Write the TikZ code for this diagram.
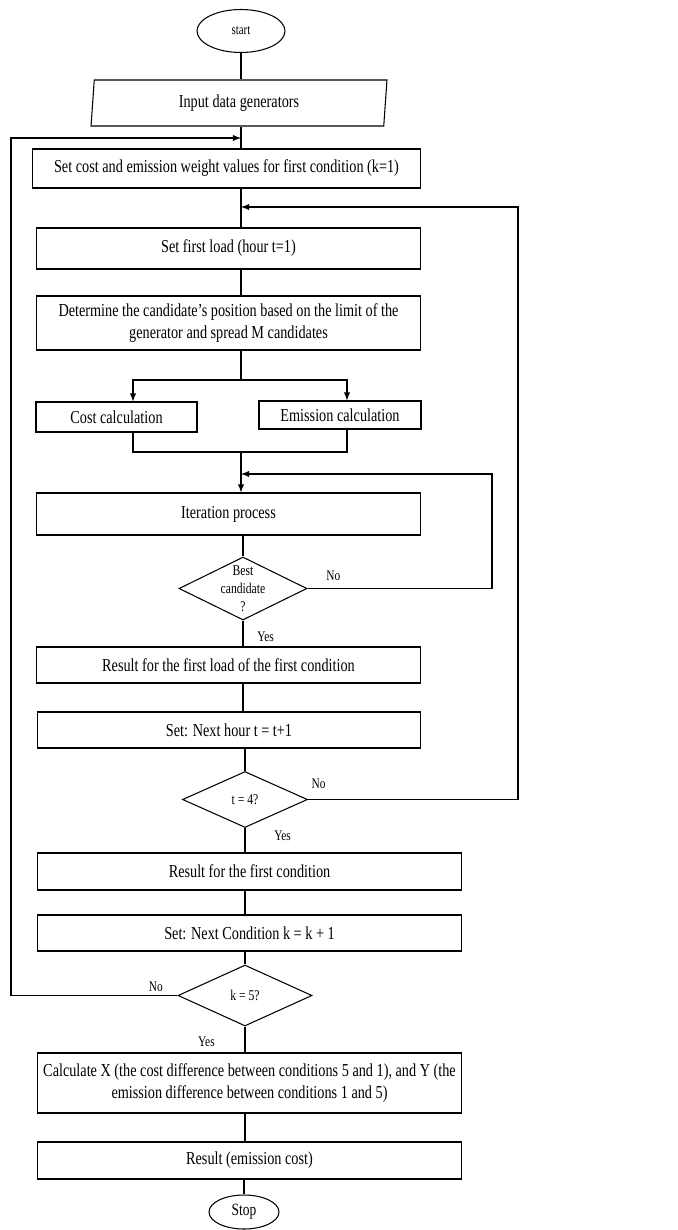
\documentclass[tikz,border=0pt]{standalone}
\usepackage{fontspec}
\setmainfont{Liberation Serif}[FakeStretch=0.78]
\usetikzlibrary{arrows,shapes.geometric}

\begin{document}
\begin{tikzpicture}[x=0.02cm,y=-0.02cm,line width=0.6pt,>=latex,
	box/.style={draw,rectangle,inner sep=0pt,align=center,font=\fontsize{10.4}{12.2}\selectfont},
	dec/.style={draw,diamond,inner sep=0pt},
	term/.style={draw,ellipse,inner sep=0pt},
	dectext/.style={align=center,inner sep=0pt,font=\fontsize{8.5}{10.2}\selectfont},
	lbl/.style={inner sep=1pt,font=\fontsize{8.3}{9.5}\selectfont}]

\useasboundingbox (0,0) rectangle (678,1230);

% START
\node[term,minimum width=1.76cm,minimum height=0.86cm,font=\fontsize{8}{9}\selectfont] (start) at (241,31) {start};
\node[box,trapezium,trapezium left angle=79,trapezium right angle=101,trapezium stretches body,
	minimum width=5.92cm,minimum height=0.92cm] (inp) at (239,103) {Input data generators};
\node[box,minimum width=7.78cm,minimum height=0.78cm] (setk) at (226.5,168.5) {Set cost and emission weight values for first condition (k=1)};

% LOAD
\node[box,minimum width=7.7cm,minimum height=0.82cm] (load) at (228.5,248.5) {Set first load (hour t=1)};
\node[box,minimum width=7.7cm,minimum height=1.08cm] (det) at (228.5,323) {Determine the candidate’s position based on the limit of the\\generator and spread M candidates};
\node[box,minimum width=3.22cm,minimum height=0.6cm] (cost) at (116.5,417) {Cost calculation};
\node[box,minimum width=3.24cm,minimum height=0.56cm] (emis) at (340,415) {Emission calculation};

% ITERATION
\node[box,minimum width=7.7cm,minimum height=0.84cm] (iter) at (228.5,514) {Iteration process};
\node[dec,minimum width=2.56cm,minimum height=1.26cm,label={[dectext]center:Best\\candidate\\?}] (best) at (243,588.5) {};
\node[box,minimum width=7.7cm,minimum height=0.72cm] (res1) at (228.5,665) {Result for the first load of the first condition};
\node[box,minimum width=7.68cm,minimum height=0.72cm] (hour) at (229,730) {Set: Next hour t = t+1};
\node[dec,minimum width=2.5cm,minimum height=1.12cm,label={[dectext]center:t = 4?}] (tdec) at (245,799.5) {};

% CONDITION
\node[box,minimum width=8.5cm,minimum height=0.74cm] (res2) at (249.5,871.5) {Result for the first condition};
\node[box,minimum width=8.5cm,minimum height=0.72cm] (nextk) at (249.5,933) {Set: Next Condition k = k + 1};
\node[dec,minimum width=2.68cm,minimum height=1.22cm,label={[dectext]center:k = 5?}] (kdec) at (245,995.5) {};
\node[box,minimum width=8.5cm,minimum height=1.2cm] (calc) at (249.5,1083) {Calculate X (the cost difference between conditions 5 and 1), and Y (the\\emission difference between conditions 1 and 5)};
\node[box,minimum width=8.5cm,minimum height=0.74cm] (final) at (249.5,1160.5) {Result (emission cost)};
\node[term,minimum width=1.4cm,minimum height=0.68cm,font=\fontsize{9.8}{11}\selectfont] (stop) at (244,1212) {Stop};

% JOINS
\coordinate (lft) at (11,0);
\coordinate (rgtA) at (518,0);
\coordinate (rgtB) at (492,0);
\coordinate (kjoin) at (241,138);
\coordinate (tjoin) at (241,207);
\coordinate (split) at (241,380);
\coordinate (merge) at (241,452);
\coordinate (bjoin) at (241,474);

% MAIN LINE
\draw (start.south) -- (inp.north -| start);
\draw (inp.south -| start) -- (setk.north -| start);
\draw (setk.south -| start) -- (load.north -| start);
\draw (load.south -| start) -- (det.north -| start);
\draw (det.south -| start) -- (split);
\draw[->] (split) -| ([xshift=0.33cm]cost.north);
\draw[->] (split) -| ([xshift=0.14cm]emis.north);
\draw ([xshift=0.33cm]cost.south) |- (merge) -| ([xshift=0.14cm]emis.south);
\draw[->] (merge) -- (iter.north -| start);
\draw (iter.south -| best) -- (best.north);
\draw (best.south) -- node[lbl,right,pos=0.63,xshift=0.24cm]{Yes} (res1.north -| best);
\draw (res1.south -| best) -- (hour.north -| best);
\draw (hour.south -| tdec) -- (tdec.north);
\draw (tdec.south) -- node[lbl,right,pos=0.3,xshift=0.54cm]{Yes} (res2.north -| tdec);
\draw (res2.south -| kdec) -- (nextk.north -| kdec);
\draw (nextk.south -| kdec) -- (kdec.north);
\draw (kdec.south) -- node[lbl,left,pos=0.6,xshift=-0.56cm]{Yes} (calc.north -| kdec);
\draw (calc.south -| kdec) -- (final.north -| kdec);
\draw (final.south -| stop) -- (stop.north);

% LOOPS
\draw[->] (best.east) -- node[lbl,above=3pt,pos=0.14]{No} (best.east -| rgtB) |- (bjoin);
\draw[->] (tdec.east) -- node[lbl,above=4.8pt,pos=0.05]{No} (tdec.east -| rgtA) |- (tjoin);
\draw[->] (kdec.west) -- node[lbl,above=1pt,pos=0.13]{No} (kdec.west -| lft) |- (kjoin);

\end{tikzpicture}
\end{document}
